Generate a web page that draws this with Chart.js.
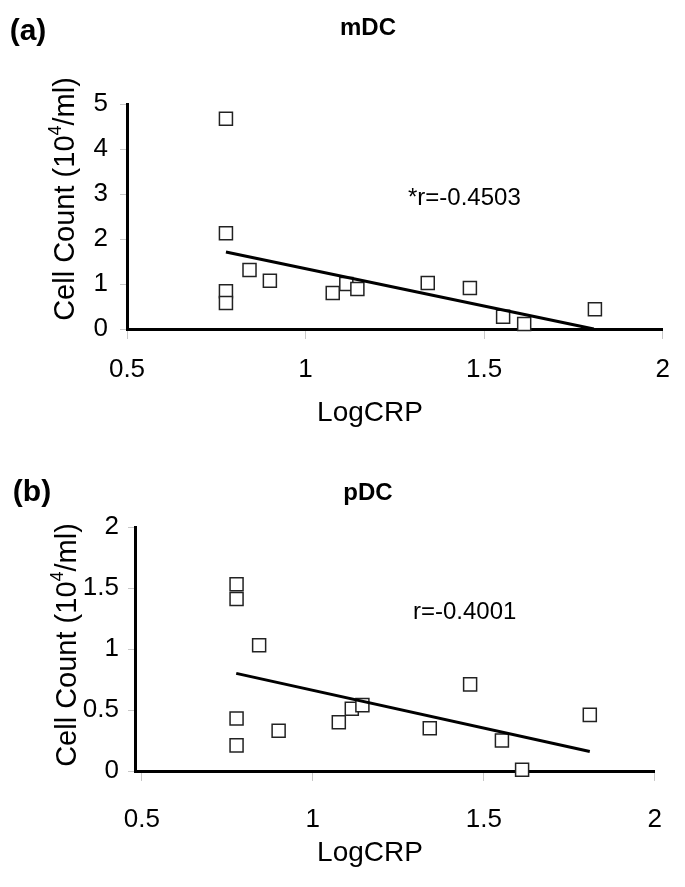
<!DOCTYPE html>
<html>
<head>
<meta charset="utf-8">
<script src="https://cdn.jsdelivr.net/npm/chart.js@4.4.1/dist/chart.umd.min.js"></script>
<style>
  html, body { margin: 0; padding: 0; background: #fff; }
  canvas { display: block; }
</style>
</head>
<body>
<canvas id="chartA" width="685" height="440"></canvas>
<canvas id="chartB" width="685" height="447"></canvas>
<script>
// values
const logCrp = [0.777, 0.777, 0.777, 0.777, 0.843, 0.90, 1.076, 1.114, 1.145, 1.342, 1.46, 1.553, 1.612, 1.81];
const mdcCount = [4.67, 2.13, 0.84, 0.58, 1.31, 1.07, 0.80, 1.0, 0.89, 1.02, 0.91, 0.27, 0.11, 0.44];
const pdcCount = [1.53, 1.41, 0.43, 0.21, 1.03, 0.33, 0.40, 0.51, 0.54, 0.35, 0.71, 0.25, 0.01, 0.46];

const mdcTrendX = [0.777, 1.807];
const mdcTrendY = [1.71, 0.0];
const pdcTrendX = [0.776, 1.81];
const pdcTrendY = [0.80, 0.16];

const xTicks = [0.5, 1, 1.5, 2];
const mdcTicks = [0, 1, 2, 3, 4, 5];
const pdcTicks = [0, 0.5, 1, 1.5, 2];

const FONT = "'Liberation Sans', Arial, sans-serif";
Chart.defaults.font.family = FONT;
Chart.defaults.color = '#000';

function toPoints(xs, ys) {
  return xs.map((x, i) => ({ x: x, y: ys[i] }));
}

// panel letter, title, r value and axis titles
const panelText = {
  id: 'panelText',
  afterDraw(chart, args, o) {
    const ctx = chart.ctx;
    ctx.save();
    ctx.fillStyle = '#000';
    ctx.textBaseline = 'middle';
    ctx.textAlign = 'center';
    ctx.font = 'bold 30px ' + FONT;
    ctx.fillText(o.letter, o.letterX, o.letterY);
    ctx.font = 'bold 24px ' + FONT;
    ctx.fillText(o.title, 368, o.titleY);
    ctx.font = '28px ' + FONT;
    ctx.fillText('LogCRP', 370, o.xTitleY);
    ctx.textAlign = 'left';
    ctx.font = '24px ' + FONT;
    ctx.fillText(o.rText, o.rX, o.rY);

    ctx.translate(o.yTitleX, o.yTitleY);
    ctx.rotate(-Math.PI / 2);
    const parts = [['Cell Count (10', 29, 0], ['4', 18, -10], ['/ml)', 29, 0]];
    let w = 0;
    parts.forEach(p => { ctx.font = p[1] + 'px ' + FONT; w += ctx.measureText(p[0]).width; });
    let x = -w / 2;
    parts.forEach(p => {
      ctx.font = p[1] + 'px ' + FONT;
      ctx.fillText(p[0], x, p[2]);
      x += ctx.measureText(p[0]).width;
    });
    ctx.restore();
  }
};

function makeChart(id, c) {
  new Chart(document.getElementById(id), {
    type: 'scatter',
    data: {
      datasets: [
        {
          data: toPoints(c.trendX, c.trendY),
          showLine: true,
          borderColor: '#000',
          borderWidth: 3,
          pointRadius: 0,
          clip: false,
          order: 0
        },
        {
          data: toPoints(logCrp, c.counts),
          pointStyle: 'rect',
          pointRadius: 9.2,
          borderWidth: 1.5,
          borderColor: '#222',
          backgroundColor: '#fff',
          clip: false,
          order: 1
        }
      ]
    },
    options: {
      responsive: false,
      animation: false,
      layout: { padding: { top: c.top, right: 21, left: 0, bottom: 0 } },
      plugins: {
        legend: { display: false },
        tooltip: { enabled: false },
        panelText: c.text
      },
      scales: {
        x: {
          type: 'linear',
          min: c.xMin,
          max: 2,
          afterBuildTicks: s => { s.ticks = xTicks.map(v => ({ value: v })); },
          afterFit: s => { s.height = c.xHeight; },
          grid: { drawOnChartArea: false, tickLength: 10, color: '#c8c8c8' },
          border: { color: '#000', width: 3 },
          ticks: { font: { size: 26 }, padding: c.xPad, maxRotation: 0, callback: v => String(v) }
        },
        y: {
          min: 0,
          max: c.yMax,
          afterBuildTicks: s => { s.ticks = c.yTicks.map(v => ({ value: v })); },
          afterFit: s => { s.width = c.yWidth; },
          grid: { drawOnChartArea: false, tickLength: 7, color: '#c8c8c8' },
          border: { color: '#000', width: 3 },
          ticks: { font: { size: 26 }, padding: c.yPad, callback: v => String(v) }
        }
      }
    },
    plugins: [panelText]
  });
}

makeChart('chartA', {
  counts: mdcCount, trendX: mdcTrendX, trendY: mdcTrendY,
  top: 104, xHeight: 111, yWidth: 127, xMin: 0.5, yMax: 5, yTicks: mdcTicks,
  xPad: 15, yPad: 12,
  text: { letter: '(a)', letterX: 28, letterY: 32, title: 'mDC', titleY: 28, xTitleY: 413,
          rText: '*r=-0.4503', rX: 408, rY: 198, yTitleX: 66, yTitleY: 199 }
});

makeChart('chartB', {
  counts: pdcCount, trendX: pdcTrendX, trendY: pdcTrendY,
  top: 87, xHeight: 116, yWidth: 135, xMin: 0.48, yMax: 2, yTicks: pdcTicks,
  xPad: 23, yPad: 9,
  text: { letter: '(b)', letterX: 32, letterY: 53, title: 'pDC', titleY: 53, xTitleY: 413,
          rText: 'r=-0.4001', rX: 413, rY: 172, yTitleX: 68, yTitleY: 205 }
});
</script>
</body>
</html>
